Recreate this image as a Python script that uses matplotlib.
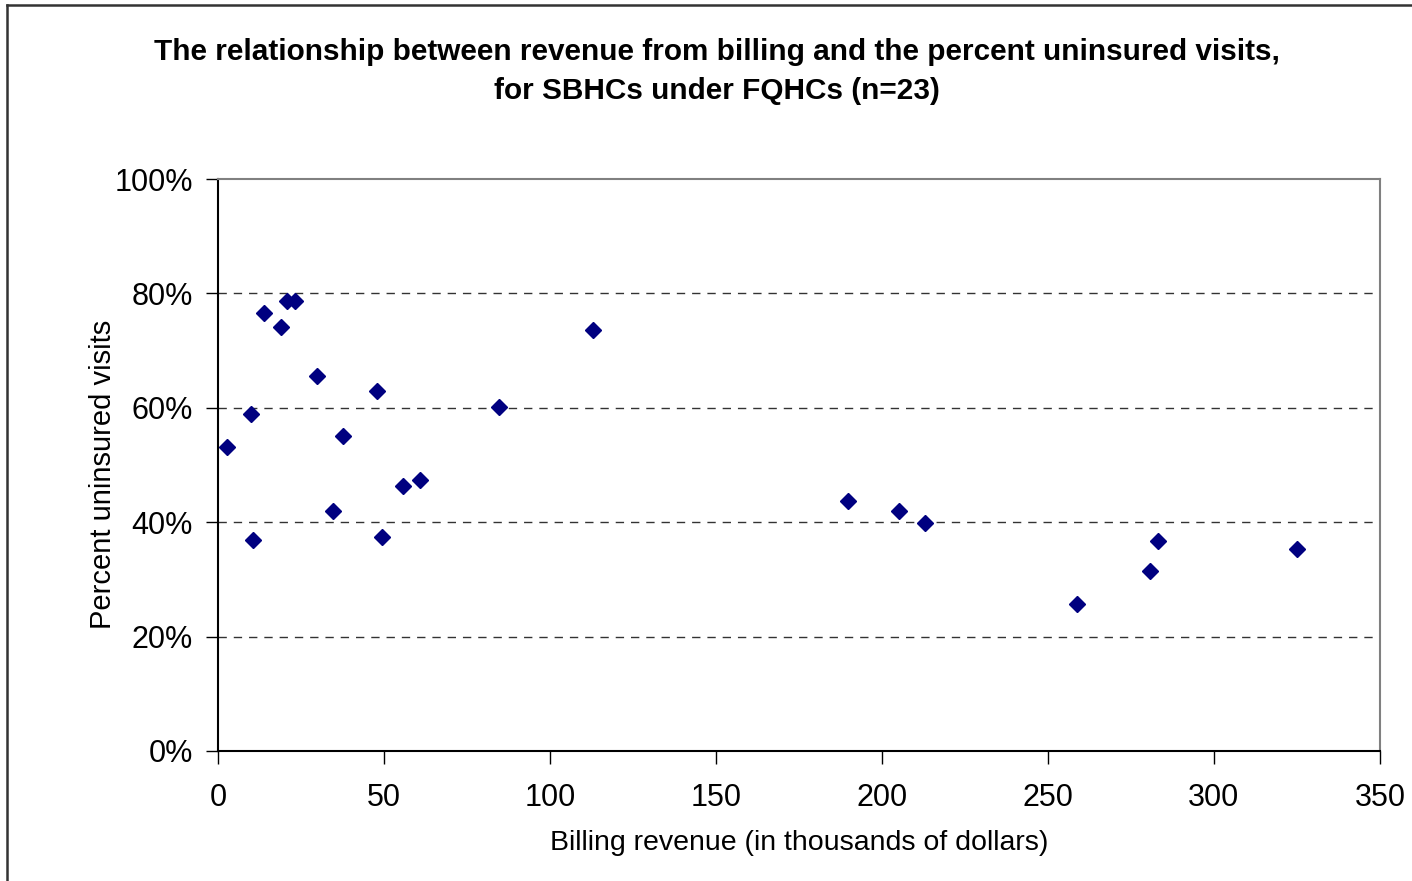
import matplotlib.pyplot as plt
from matplotlib.lines import Line2D
from matplotlib.ticker import FuncFormatter

plt.rcParams['font.family'] = ['Liberation Sans', 'DejaVu Sans']

# billing revenue (thousands of dollars) and percent uninsured visits per SBHC
revenue = [2.6, 9.9, 10.6, 13.9, 19.0, 20.7, 23.2, 29.7, 34.7, 37.7, 48.0, 49.5,
           55.8, 60.8, 84.6, 113.0, 189.8, 205.1, 213.0, 258.7, 280.7, 283.1, 325.0]
uninsured = [53.2, 59.0, 36.8, 76.5, 74.2, 78.7, 78.7, 65.6, 42.0, 55.1, 63.0, 37.4,
             46.3, 47.3, 60.1, 73.6, 43.7, 42.0, 39.9, 25.7, 31.5, 36.7, 35.3]

x_ticks = [0, 50, 100, 150, 200, 250, 300, 350]
y_ticks = [0, 20, 40, 60, 80, 100]

fig = plt.figure(figsize=(14.12, 8.81), dpi=100)
ax = fig.add_axes([0.1544, 0.1476, 0.8229, 0.6492])

ax.plot(revenue, uninsured, linestyle='none', marker='D', markersize=8,
        color='#000080', markeredgecolor='#000080')

ax.set_xlim(0, 350)
ax.set_ylim(0, 100)
ax.set_xticks(x_ticks)
ax.set_yticks(y_ticks)
ax.yaxis.set_major_formatter(FuncFormatter(lambda v, p: f'{v:.0f}%'))

for y in y_ticks[1:-1]:
    ax.axhline(y, color='#333333', linestyle=(0, (6, 5)), linewidth=1, zorder=0)

ax.spines['left'].set_color('black')
ax.spines['bottom'].set_color('black')
ax.spines['top'].set_color('#808080')
ax.spines['right'].set_color('#808080')
for s in ax.spines.values():
    s.set_linewidth(1.5)

ax.tick_params(direction='out', length=9, width=1, labelsize=22)
ax.tick_params(axis='x', pad=14)
ax.tick_params(axis='y', pad=9)

ax.set_xlabel('Billing revenue (in thousands of dollars)', fontsize=20.5, labelpad=12)
ax.set_ylabel('Percent uninsured visits', fontsize=21)
ax.yaxis.set_label_coords(-0.087, 0.483)

fig.text(0.508, 0.957, 'The relationship between revenue from billing and the percent uninsured visits,\n'
         'for SBHCs under FQHCs (n=23)', ha='center', va='top', fontsize=21.4,
         fontweight='bold', linespacing=1.5)

# chart border
fig.add_artist(Line2D([0.005, 0.005], [0, 0.994], color='#333333', linewidth=1.8,
                      transform=fig.transFigure))
fig.add_artist(Line2D([0.005, 1.0], [0.994, 0.994], color='#333333', linewidth=1.8,
                      transform=fig.transFigure))

fig.savefig('out.png', dpi=100)
